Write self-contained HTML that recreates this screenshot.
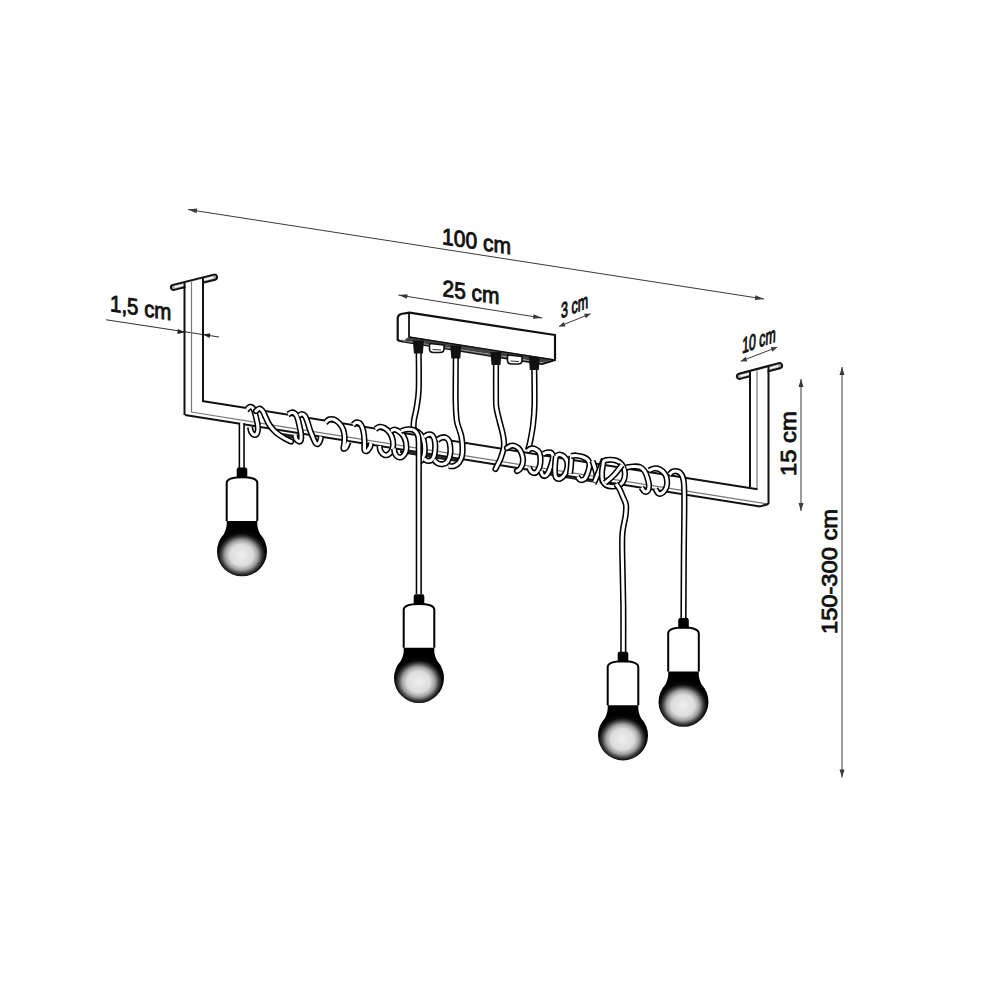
<!DOCTYPE html><html><head><meta charset="utf-8"><style>html,body{margin:0;padding:0;background:#fff;width:1000px;height:1000px;overflow:hidden}svg{display:block}text{font-family:"Liberation Sans",sans-serif;fill:#111}</style></head><body>
<svg width="1000" height="1000" viewBox="0 0 1000 1000">
<defs>
<radialGradient id="bg" gradientUnits="userSpaceOnUse" cx="-0.5" cy="87.5" r="25" gradientTransform="translate(-0.5,87.5) scale(1.1,1) translate(0.5,-87.5)">
<stop offset="0" stop-color="#eeeeee"/><stop offset="0.42" stop-color="#dddddd"/><stop offset="0.6" stop-color="#a0a0a0"/><stop offset="0.74" stop-color="#404040"/><stop offset="0.85" stop-color="#0a0a0a"/><stop offset="1" stop-color="#000"/>
</radialGradient>
</defs>
<line x1="188" y1="209.5" x2="764" y2="299" stroke="#3a3a3a" stroke-width="1.0"/><path d="M764.0,299.0 L754.8,299.9 L755.5,295.3 Z" fill="#3a3a3a"/><path d="M188.0,209.5 L197.2,208.6 L196.5,213.2 Z" fill="#3a3a3a"/>
<line x1="398.4" y1="295" x2="542.2" y2="318" stroke="#3a3a3a" stroke-width="1.0"/><path d="M542.2,318.0 L532.9,318.8 L533.7,314.3 Z" fill="#3a3a3a"/><path d="M398.4,295.0 L407.7,294.2 L406.9,298.7 Z" fill="#3a3a3a"/>
<line x1="559" y1="326.4" x2="590.5" y2="313.8" stroke="#3a3a3a" stroke-width="1.0"/><path d="M590.5,313.8 L585.9,318.3 L584.0,313.7 Z" fill="#3a3a3a"/><path d="M559.0,326.4 L563.6,321.9 L565.5,326.5 Z" fill="#3a3a3a"/>
<line x1="740.8" y1="361.2" x2="777.2" y2="347.2" stroke="#3a3a3a" stroke-width="1.0"/><path d="M777.2,347.2 L772.5,351.7 L770.7,347.0 Z" fill="#3a3a3a"/><path d="M740.8,361.2 L745.5,356.7 L747.3,361.4 Z" fill="#3a3a3a"/>
<line x1="801" y1="379" x2="801" y2="511" stroke="#3a3a3a" stroke-width="1.0"/><path d="M801.0,511.0 L798.5,503.0 L803.5,503.0 Z" fill="#3a3a3a"/><path d="M801.0,379.0 L803.5,387.0 L798.5,387.0 Z" fill="#3a3a3a"/>
<line x1="842" y1="367" x2="842" y2="777.5" stroke="#3a3a3a" stroke-width="1.0"/><path d="M842.0,777.5 L839.5,769.5 L844.5,769.5 Z" fill="#3a3a3a"/><path d="M842.0,367.0 L844.5,375.0 L839.5,375.0 Z" fill="#3a3a3a"/>
<line x1="106" y1="319.7" x2="219" y2="337" stroke="#333" stroke-width="1.1"/>
<path d="M184.5,332.5 L177.2,333.9 L178.0,329.0 Z" fill="#222"/>
<path d="M203.0,334.6 L210.3,333.2 L209.6,338.1 Z" fill="#222"/>
<text transform="translate(442,244) skewY(8.6) skewX(0) scale(0.915,1)" font-size="23" stroke="#111" stroke-width="0.9">100 cm</text>
<text transform="translate(442.5,296) skewY(8.2) skewX(0) scale(0.91,1)" font-size="23" stroke="#111" stroke-width="0.9">25 cm</text>
<text transform="translate(110,311) skewY(8.6) skewX(0) scale(0.89,1)" font-size="23" stroke="#111" stroke-width="0.9">1,5 cm</text>
<text transform="translate(561,318.5) skewY(-22) skewX(0) scale(0.58,1)" font-size="21.5" stroke="#111" stroke-width="1.1">3 cm</text>
<text transform="translate(742,353.5) skewY(-19.7) skewX(-2) scale(0.56,1)" font-size="22" stroke="#111" stroke-width="1.1">10 cm</text>
<text transform="translate(796,476) scale(0.93,1.035) rotate(-90)" font-size="23" stroke="#111" stroke-width="0.9">15 cm</text>
<text transform="translate(837,634) scale(0.96,1.03) rotate(-90)" font-size="23" stroke="#111" stroke-width="0.9">150-300 cm</text>
<g transform="translate(171,288) rotate(-14.036243467926479)"><rect x="0" y="-2.6" width="47.4" height="5.2" rx="2.6" fill="#aaa" stroke="#111" stroke-width="2"/><rect x="3.5" y="-0.8" width="12.3" height="1.6" rx="0.8" fill="#fff" stroke="none"/><rect x="29.4" y="-0.8" width="14.2" height="1.6" rx="0.8" fill="#fff" stroke="none"/></g>
<path d="M185.5,283.2 L202,279.1 L202,296 L185.5,296 Z" fill="#fff"/>
<line x1="184.5" y1="282.9" x2="184.5" y2="415" stroke="#111" stroke-width="2"/>
<line x1="191.5" y1="281.7" x2="191.5" y2="412" stroke="#777" stroke-width="1.2"/>
<line x1="203" y1="278.3" x2="203" y2="401" stroke="#111" stroke-width="2"/>
<g transform="translate(737,377) rotate(-14.931417178137554)"><rect x="0" y="-2.6" width="46.6" height="5.2" rx="2.6" fill="#aaa" stroke="#111" stroke-width="2"/><rect x="3.5" y="-0.8" width="12.1" height="1.6" rx="0.8" fill="#fff" stroke="none"/><rect x="28.9" y="-0.8" width="14.0" height="1.6" rx="0.8" fill="#fff" stroke="none"/></g>
<path d="M751,372.1 L767.5,367.7 L767.5,385 L751,385 Z" fill="#fff"/>
<line x1="750" y1="371.8" x2="750" y2="487" stroke="#111" stroke-width="2"/>
<line x1="757" y1="370.5" x2="757" y2="489" stroke="#777" stroke-width="1.2"/>
<line x1="768.5" y1="366.9" x2="768.5" y2="504" stroke="#111" stroke-width="2"/>
<line x1="202" y1="401" x2="757.5" y2="489.3" stroke="#111" stroke-width="2"/>
<line x1="191" y1="412" x2="768" y2="504" stroke="#777" stroke-width="1.2"/>
<polyline points="185,415 760,506.5 768.5,504" fill="none" stroke="#111" stroke-width="2"/>
<path d="M400,450 L460,459.5 L460,462.5 L400,453 Z" fill="#222"/><path d="M279,432.5 L298,435.5 L298,438.5 L285,437.5 Z" fill="#222"/><path d="M530,470.5 L596,481 L596,483 L530,472.5 Z" fill="#222"/>
<path d="M241.7,423.0 C241.7,425.8 241.7,432.5 241.7,440.0 C241.7,447.5 241.7,463.3 241.7,468.0" fill="none" stroke="#000" stroke-width="6.2" stroke-linecap="butt" stroke-linejoin="round"/><path d="M241.7,423.0 C241.7,425.8 241.7,432.5 241.7,440.0 C241.7,447.5 241.7,463.3 241.7,468.0" fill="none" stroke="#fff" stroke-width="3.1" stroke-linecap="butt" stroke-linejoin="round"/>
<path d="M246.5,410.0 C247.1,409.5 248.8,407.0 250.0,406.8 C251.2,406.6 252.5,407.3 253.5,409.0 C254.5,410.7 255.3,414.2 256.0,417.0 C256.7,419.8 257.6,423.5 257.8,426.0 C258.1,428.5 258.0,430.5 257.5,432.0 C257.0,433.5 256.0,434.9 255.0,435.0 C254.0,435.1 252.3,433.8 251.5,432.5 C250.7,431.2 250.2,427.9 250.0,427.0" fill="none" stroke="#000" stroke-width="6.2" stroke-linecap="butt" stroke-linejoin="round"/><path d="M246.5,410.0 C247.1,409.5 248.8,407.0 250.0,406.8 C251.2,406.6 252.5,407.3 253.5,409.0 C254.5,410.7 255.3,414.2 256.0,417.0 C256.7,419.8 257.6,423.5 257.8,426.0 C258.1,428.5 258.0,430.5 257.5,432.0 C257.0,433.5 256.0,434.9 255.0,435.0 C254.0,435.1 252.3,433.8 251.5,432.5 C250.7,431.2 250.2,427.9 250.0,427.0" fill="none" stroke="#fff" stroke-width="3.1" stroke-linecap="butt" stroke-linejoin="round"/>
<path d="M256.0,411.0 C256.6,410.6 258.3,408.4 259.5,408.5 C260.7,408.6 262.0,410.1 263.0,411.5 C264.0,412.9 264.4,414.8 265.5,417.0 C266.6,419.2 267.8,422.4 269.5,425.0 C271.2,427.6 273.6,430.3 276.0,432.5 C278.4,434.7 281.5,436.5 284.0,438.0 C286.5,439.5 289.8,440.9 291.0,441.5" fill="none" stroke="#000" stroke-width="6.2" stroke-linecap="round" stroke-linejoin="round"/><path d="M256.0,411.0 C256.6,410.6 258.3,408.4 259.5,408.5 C260.7,408.6 262.0,410.1 263.0,411.5 C264.0,412.9 264.4,414.8 265.5,417.0 C266.6,419.2 267.8,422.4 269.5,425.0 C271.2,427.6 273.6,430.3 276.0,432.5 C278.4,434.7 281.5,436.5 284.0,438.0 C286.5,439.5 289.8,440.9 291.0,441.5" fill="none" stroke="#fff" stroke-width="3.1" stroke-linecap="round" stroke-linejoin="round"/>
<path d="M288.0,414.5 C288.6,414.2 290.3,412.7 291.5,412.5 C292.7,412.3 294.0,412.6 295.0,413.5 C296.0,414.4 296.8,415.9 297.5,418.0 C298.2,420.1 298.9,423.3 299.5,426.0 C300.1,428.7 300.8,431.8 301.0,434.0 C301.2,436.2 301.3,438.2 301.0,439.5 C300.7,440.8 299.8,441.6 299.0,441.5 C298.2,441.4 296.7,440.1 296.0,439.0 C295.3,437.9 295.2,435.7 295.0,435.0" fill="none" stroke="#000" stroke-width="6.2" stroke-linecap="butt" stroke-linejoin="round"/><path d="M288.0,414.5 C288.6,414.2 290.3,412.7 291.5,412.5 C292.7,412.3 294.0,412.6 295.0,413.5 C296.0,414.4 296.8,415.9 297.5,418.0 C298.2,420.1 298.9,423.3 299.5,426.0 C300.1,428.7 300.8,431.8 301.0,434.0 C301.2,436.2 301.3,438.2 301.0,439.5 C300.7,440.8 299.8,441.6 299.0,441.5 C298.2,441.4 296.7,440.1 296.0,439.0 C295.3,437.9 295.2,435.7 295.0,435.0" fill="none" stroke="#fff" stroke-width="3.1" stroke-linecap="butt" stroke-linejoin="round"/>
<path d="M299.0,415.5 C299.5,415.2 301.0,413.9 302.0,414.0 C303.0,414.1 304.1,414.7 305.0,416.0 C305.9,417.3 306.7,419.7 307.5,422.0 C308.3,424.3 309.1,427.4 310.0,430.0 C310.9,432.6 312.1,435.3 313.0,437.5 C313.9,439.7 314.7,441.9 315.5,443.0 C316.3,444.1 317.2,444.3 318.0,444.0 C318.8,443.7 319.5,442.2 320.0,441.0 C320.5,439.8 320.8,437.2 321.0,436.5" fill="none" stroke="#000" stroke-width="6.2" stroke-linecap="butt" stroke-linejoin="round"/><path d="M299.0,415.5 C299.5,415.2 301.0,413.9 302.0,414.0 C303.0,414.1 304.1,414.7 305.0,416.0 C305.9,417.3 306.7,419.7 307.5,422.0 C308.3,424.3 309.1,427.4 310.0,430.0 C310.9,432.6 312.1,435.3 313.0,437.5 C313.9,439.7 314.7,441.9 315.5,443.0 C316.3,444.1 317.2,444.3 318.0,444.0 C318.8,443.7 319.5,442.2 320.0,441.0 C320.5,439.8 320.8,437.2 321.0,436.5" fill="none" stroke="#fff" stroke-width="3.1" stroke-linecap="butt" stroke-linejoin="round"/>
<path d="M325.5,422.5 C326.1,422.0 327.6,420.0 329.0,419.5 C330.4,419.0 332.3,418.9 334.0,419.5 C335.7,420.1 337.5,421.4 339.0,423.0 C340.5,424.6 342.1,426.8 343.0,429.0 C343.9,431.2 344.3,433.7 344.5,436.0 C344.7,438.3 344.5,440.9 344.3,443.0 C344.1,445.1 343.2,447.8 343.5,448.5 C343.8,449.2 345.2,448.6 346.0,447.5 C346.8,446.4 348.1,442.9 348.5,442.0" fill="none" stroke="#000" stroke-width="6.2" stroke-linecap="butt" stroke-linejoin="round"/><path d="M325.5,422.5 C326.1,422.0 327.6,420.0 329.0,419.5 C330.4,419.0 332.3,418.9 334.0,419.5 C335.7,420.1 337.5,421.4 339.0,423.0 C340.5,424.6 342.1,426.8 343.0,429.0 C343.9,431.2 344.3,433.7 344.5,436.0 C344.7,438.3 344.5,440.9 344.3,443.0 C344.1,445.1 343.2,447.8 343.5,448.5 C343.8,449.2 345.2,448.6 346.0,447.5 C346.8,446.4 348.1,442.9 348.5,442.0" fill="none" stroke="#fff" stroke-width="3.1" stroke-linecap="butt" stroke-linejoin="round"/>
<path d="M353.0,425.0 C353.5,424.6 354.8,422.8 356.0,422.5 C357.2,422.2 358.9,422.6 360.0,423.5 C361.1,424.4 361.8,426.1 362.5,428.0 C363.2,429.9 363.7,432.5 364.0,435.0 C364.3,437.5 364.4,440.5 364.5,443.0 C364.6,445.5 364.1,448.7 364.5,450.0 C364.9,451.3 366.1,451.5 367.0,451.0 C367.9,450.5 369.3,448.3 370.0,447.0 C370.7,445.7 370.8,443.7 371.0,443.0" fill="none" stroke="#000" stroke-width="6.2" stroke-linecap="butt" stroke-linejoin="round"/><path d="M353.0,425.0 C353.5,424.6 354.8,422.8 356.0,422.5 C357.2,422.2 358.9,422.6 360.0,423.5 C361.1,424.4 361.8,426.1 362.5,428.0 C363.2,429.9 363.7,432.5 364.0,435.0 C364.3,437.5 364.4,440.5 364.5,443.0 C364.6,445.5 364.1,448.7 364.5,450.0 C364.9,451.3 366.1,451.5 367.0,451.0 C367.9,450.5 369.3,448.3 370.0,447.0 C370.7,445.7 370.8,443.7 371.0,443.0" fill="none" stroke="#fff" stroke-width="3.1" stroke-linecap="butt" stroke-linejoin="round"/>
<path d="M375.5,429.0 C376.2,428.6 378.0,427.0 379.5,426.8 C381.0,426.6 382.8,427.0 384.5,428.0 C386.2,429.0 388.6,430.8 390.0,433.0 C391.4,435.2 392.6,438.3 393.0,441.0 C393.4,443.7 393.2,446.8 392.5,449.0 C391.8,451.2 390.3,453.0 389.0,454.0 C387.7,455.0 385.9,455.5 384.5,455.0 C383.1,454.5 381.3,452.5 380.5,451.0 C379.7,449.5 379.7,446.8 379.5,446.0" fill="none" stroke="#000" stroke-width="6.2" stroke-linecap="butt" stroke-linejoin="round"/><path d="M375.5,429.0 C376.2,428.6 378.0,427.0 379.5,426.8 C381.0,426.6 382.8,427.0 384.5,428.0 C386.2,429.0 388.6,430.8 390.0,433.0 C391.4,435.2 392.6,438.3 393.0,441.0 C393.4,443.7 393.2,446.8 392.5,449.0 C391.8,451.2 390.3,453.0 389.0,454.0 C387.7,455.0 385.9,455.5 384.5,455.0 C383.1,454.5 381.3,452.5 380.5,451.0 C379.7,449.5 379.7,446.8 379.5,446.0" fill="none" stroke="#fff" stroke-width="3.1" stroke-linecap="butt" stroke-linejoin="round"/>
<path d="M391.0,431.0 C391.6,430.8 393.2,429.4 394.5,429.5 C395.8,429.6 397.5,430.4 399.0,431.5 C400.5,432.6 402.3,434.1 403.5,436.0 C404.7,437.9 405.6,440.5 406.0,443.0 C406.4,445.5 406.6,448.8 406.0,451.0 C405.4,453.2 403.8,455.5 402.5,456.5 C401.2,457.5 399.2,457.5 398.0,457.0 C396.8,456.5 395.7,454.9 395.0,453.5 C394.3,452.1 394.2,449.3 394.0,448.5" fill="none" stroke="#000" stroke-width="6.2" stroke-linecap="butt" stroke-linejoin="round"/><path d="M391.0,431.0 C391.6,430.8 393.2,429.4 394.5,429.5 C395.8,429.6 397.5,430.4 399.0,431.5 C400.5,432.6 402.3,434.1 403.5,436.0 C404.7,437.9 405.6,440.5 406.0,443.0 C406.4,445.5 406.6,448.8 406.0,451.0 C405.4,453.2 403.8,455.5 402.5,456.5 C401.2,457.5 399.2,457.5 398.0,457.0 C396.8,456.5 395.7,454.9 395.0,453.5 C394.3,452.1 394.2,449.3 394.0,448.5" fill="none" stroke="#fff" stroke-width="3.1" stroke-linecap="butt" stroke-linejoin="round"/>
<path d="M418.7,353.0 C418.7,359.2 419.1,380.8 418.7,390.0 C418.3,399.2 417.3,403.0 416.5,408.0 C415.7,413.0 414.5,416.7 414.0,420.0 C413.5,423.3 413.6,426.7 413.5,428.0" fill="none" stroke="#000" stroke-width="6.2" stroke-linecap="butt" stroke-linejoin="round"/><path d="M418.7,353.0 C418.7,359.2 419.1,380.8 418.7,390.0 C418.3,399.2 417.3,403.0 416.5,408.0 C415.7,413.0 414.5,416.7 414.0,420.0 C413.5,423.3 413.6,426.7 413.5,428.0" fill="none" stroke="#fff" stroke-width="3.1" stroke-linecap="butt" stroke-linejoin="round"/>
<path d="M401.0,431.0 C401.8,430.8 404.2,429.8 406.0,429.5 C407.8,429.2 410.0,429.1 412.0,429.5 C414.0,429.9 416.2,430.8 418.0,432.0 C419.8,433.2 421.4,434.8 422.5,437.0 C423.6,439.2 424.2,442.3 424.5,445.0 C424.8,447.7 424.9,450.5 424.5,453.0 C424.1,455.5 423.2,458.5 422.0,460.0 C420.8,461.5 417.8,461.7 417.0,462.0" fill="none" stroke="#000" stroke-width="6.2" stroke-linecap="butt" stroke-linejoin="round"/><path d="M401.0,431.0 C401.8,430.8 404.2,429.8 406.0,429.5 C407.8,429.2 410.0,429.1 412.0,429.5 C414.0,429.9 416.2,430.8 418.0,432.0 C419.8,433.2 421.4,434.8 422.5,437.0 C423.6,439.2 424.2,442.3 424.5,445.0 C424.8,447.7 424.9,450.5 424.5,453.0 C424.1,455.5 423.2,458.5 422.0,460.0 C420.8,461.5 417.8,461.7 417.0,462.0" fill="none" stroke="#fff" stroke-width="3.1" stroke-linecap="butt" stroke-linejoin="round"/>
<path d="M424.0,437.0 C424.7,436.6 426.6,434.8 428.0,434.5 C429.4,434.2 431.3,434.2 432.5,435.5 C433.7,436.8 434.6,439.4 435.0,442.0 C435.4,444.6 435.3,448.2 435.0,451.0 C434.7,453.8 434.1,456.8 433.0,458.5 C431.9,460.2 430.0,460.9 428.5,461.0 C427.0,461.1 424.8,459.3 424.0,459.0" fill="none" stroke="#000" stroke-width="6.2" stroke-linecap="butt" stroke-linejoin="round"/><path d="M424.0,437.0 C424.7,436.6 426.6,434.8 428.0,434.5 C429.4,434.2 431.3,434.2 432.5,435.5 C433.7,436.8 434.6,439.4 435.0,442.0 C435.4,444.6 435.3,448.2 435.0,451.0 C434.7,453.8 434.1,456.8 433.0,458.5 C431.9,460.2 430.0,460.9 428.5,461.0 C427.0,461.1 424.8,459.3 424.0,459.0" fill="none" stroke="#fff" stroke-width="3.1" stroke-linecap="butt" stroke-linejoin="round"/>
<path d="M413.0,429.5 C413.6,430.0 415.6,431.1 416.5,432.5 C417.4,433.9 418.1,434.8 418.5,438.0 C418.9,441.2 418.8,445.0 418.8,452.0 C418.9,459.0 418.8,456.3 418.8,480.0 C418.8,503.7 418.8,575.0 418.8,594.0" fill="none" stroke="#000" stroke-width="6.2" stroke-linecap="butt" stroke-linejoin="round"/><path d="M413.0,429.5 C413.6,430.0 415.6,431.1 416.5,432.5 C417.4,433.9 418.1,434.8 418.5,438.0 C418.9,441.2 418.8,445.0 418.8,452.0 C418.9,459.0 418.8,456.3 418.8,480.0 C418.8,503.7 418.8,575.0 418.8,594.0" fill="none" stroke="#fff" stroke-width="3.1" stroke-linecap="butt" stroke-linejoin="round"/>
<path d="M437.5,440.0 C438.1,439.6 439.7,438.1 441.0,437.7 C442.3,437.3 444.2,436.9 445.5,437.5 C446.8,438.1 448.2,439.3 449.0,441.0 C449.8,442.7 450.1,445.2 450.3,447.5 C450.5,449.8 450.5,452.7 450.0,455.0 C449.5,457.3 448.6,460.0 447.5,461.5 C446.4,463.0 445.1,463.7 443.5,464.0 C441.9,464.3 439.6,464.2 438.0,463.5 C436.4,462.8 434.7,460.6 434.0,460.0" fill="none" stroke="#000" stroke-width="6.2" stroke-linecap="butt" stroke-linejoin="round"/><path d="M437.5,440.0 C438.1,439.6 439.7,438.1 441.0,437.7 C442.3,437.3 444.2,436.9 445.5,437.5 C446.8,438.1 448.2,439.3 449.0,441.0 C449.8,442.7 450.1,445.2 450.3,447.5 C450.5,449.8 450.5,452.7 450.0,455.0 C449.5,457.3 448.6,460.0 447.5,461.5 C446.4,463.0 445.1,463.7 443.5,464.0 C441.9,464.3 439.6,464.2 438.0,463.5 C436.4,462.8 434.7,460.6 434.0,460.0" fill="none" stroke="#fff" stroke-width="3.1" stroke-linecap="butt" stroke-linejoin="round"/>
<path d="M455.8,358.0 C455.8,365.0 455.5,389.7 455.6,400.0 C455.8,410.3 456.1,415.0 456.7,420.0 C457.3,425.0 458.7,427.2 459.5,430.0 C460.3,432.8 461.0,434.1 461.5,437.0 C462.0,439.9 462.5,444.3 462.6,447.5 C462.7,450.7 462.6,453.5 462.0,456.0 C461.4,458.5 460.3,460.8 459.0,462.5 C457.7,464.2 455.8,465.4 454.0,466.0 C452.2,466.6 449.4,466.0 448.5,466.0" fill="none" stroke="#000" stroke-width="6.2" stroke-linecap="butt" stroke-linejoin="round"/><path d="M455.8,358.0 C455.8,365.0 455.5,389.7 455.6,400.0 C455.8,410.3 456.1,415.0 456.7,420.0 C457.3,425.0 458.7,427.2 459.5,430.0 C460.3,432.8 461.0,434.1 461.5,437.0 C462.0,439.9 462.5,444.3 462.6,447.5 C462.7,450.7 462.6,453.5 462.0,456.0 C461.4,458.5 460.3,460.8 459.0,462.5 C457.7,464.2 455.8,465.4 454.0,466.0 C452.2,466.6 449.4,466.0 448.5,466.0" fill="none" stroke="#fff" stroke-width="3.1" stroke-linecap="butt" stroke-linejoin="round"/>
<path d="M496.0,365.0 C496.0,370.8 495.9,392.8 496.0,400.0 C496.1,407.2 496.0,404.7 496.5,408.0 C497.0,411.3 498.1,415.5 499.2,420.0 C500.3,424.5 502.2,430.7 503.0,435.0 C503.8,439.3 504.3,442.2 504.0,446.0 C503.7,449.8 502.1,454.3 501.0,457.5 C499.9,460.7 498.4,463.1 497.5,465.0 C496.6,466.9 495.8,468.3 495.5,469.0" fill="none" stroke="#000" stroke-width="6.2" stroke-linecap="round" stroke-linejoin="round"/><path d="M496.0,365.0 C496.0,370.8 495.9,392.8 496.0,400.0 C496.1,407.2 496.0,404.7 496.5,408.0 C497.0,411.3 498.1,415.5 499.2,420.0 C500.3,424.5 502.2,430.7 503.0,435.0 C503.8,439.3 504.3,442.2 504.0,446.0 C503.7,449.8 502.1,454.3 501.0,457.5 C499.9,460.7 498.4,463.1 497.5,465.0 C496.6,466.9 495.8,468.3 495.5,469.0" fill="none" stroke="#fff" stroke-width="3.1" stroke-linecap="round" stroke-linejoin="round"/>
<path d="M507.0,448.0 C507.7,447.6 509.6,446.0 511.0,445.7 C512.4,445.4 514.0,445.5 515.5,446.2 C517.0,446.9 518.8,448.1 520.0,450.0 C521.2,451.9 522.4,455.2 522.8,457.5 C523.2,459.8 523.0,462.1 522.5,464.0 C522.0,465.9 520.9,467.8 520.0,469.0 C519.1,470.2 517.5,470.7 517.0,471.0" fill="none" stroke="#000" stroke-width="6.2" stroke-linecap="round" stroke-linejoin="round"/><path d="M507.0,448.0 C507.7,447.6 509.6,446.0 511.0,445.7 C512.4,445.4 514.0,445.5 515.5,446.2 C517.0,446.9 518.8,448.1 520.0,450.0 C521.2,451.9 522.4,455.2 522.8,457.5 C523.2,459.8 523.0,462.1 522.5,464.0 C522.0,465.9 520.9,467.8 520.0,469.0 C519.1,470.2 517.5,470.7 517.0,471.0" fill="none" stroke="#fff" stroke-width="3.1" stroke-linecap="round" stroke-linejoin="round"/>
<path d="M534.3,370.0 C534.3,375.8 534.7,395.8 534.5,405.0 C534.3,414.2 533.7,419.2 533.0,425.0 C532.3,430.8 531.3,435.8 530.5,440.0 C529.7,444.2 528.4,448.3 528.0,450.0" fill="none" stroke="#000" stroke-width="6.2" stroke-linecap="butt" stroke-linejoin="round"/><path d="M534.3,370.0 C534.3,375.8 534.7,395.8 534.5,405.0 C534.3,414.2 533.7,419.2 533.0,425.0 C532.3,430.8 531.3,435.8 530.5,440.0 C529.7,444.2 528.4,448.3 528.0,450.0" fill="none" stroke="#fff" stroke-width="3.1" stroke-linecap="butt" stroke-linejoin="round"/>
<path d="M527.5,451.0 C528.1,450.6 529.6,448.8 531.0,448.5 C532.4,448.2 534.6,448.8 536.0,449.5 C537.4,450.2 538.8,451.2 539.5,453.0 C540.2,454.8 540.5,457.7 540.5,460.0 C540.5,462.3 540.2,464.9 539.5,467.0 C538.8,469.1 537.3,471.7 536.0,472.5 C534.7,473.3 532.7,472.8 531.5,472.0 C530.3,471.2 529.4,468.2 529.0,467.5" fill="none" stroke="#000" stroke-width="6.2" stroke-linecap="butt" stroke-linejoin="round"/><path d="M527.5,451.0 C528.1,450.6 529.6,448.8 531.0,448.5 C532.4,448.2 534.6,448.8 536.0,449.5 C537.4,450.2 538.8,451.2 539.5,453.0 C540.2,454.8 540.5,457.7 540.5,460.0 C540.5,462.3 540.2,464.9 539.5,467.0 C538.8,469.1 537.3,471.7 536.0,472.5 C534.7,473.3 532.7,472.8 531.5,472.0 C530.3,471.2 529.4,468.2 529.0,467.5" fill="none" stroke="#fff" stroke-width="3.1" stroke-linecap="butt" stroke-linejoin="round"/>
<path d="M543.0,454.0 C543.7,453.8 545.6,452.7 547.0,452.5 C548.4,452.3 550.5,452.2 551.5,453.0 C552.5,453.8 553.0,455.2 553.0,457.0 C553.0,458.8 552.2,461.7 551.5,464.0 C550.8,466.3 549.9,469.1 549.0,471.0 C548.1,472.9 547.1,474.8 546.0,475.5 C544.9,476.2 543.3,475.8 542.5,475.0 C541.7,474.2 541.2,471.7 541.0,471.0" fill="none" stroke="#000" stroke-width="6.2" stroke-linecap="butt" stroke-linejoin="round"/><path d="M543.0,454.0 C543.7,453.8 545.6,452.7 547.0,452.5 C548.4,452.3 550.5,452.2 551.5,453.0 C552.5,453.8 553.0,455.2 553.0,457.0 C553.0,458.8 552.2,461.7 551.5,464.0 C550.8,466.3 549.9,469.1 549.0,471.0 C548.1,472.9 547.1,474.8 546.0,475.5 C544.9,476.2 543.3,475.8 542.5,475.0 C541.7,474.2 541.2,471.7 541.0,471.0" fill="none" stroke="#fff" stroke-width="3.1" stroke-linecap="butt" stroke-linejoin="round"/>
<path d="M556.0,456.0 C556.6,455.8 558.2,454.4 559.5,454.5 C560.8,454.6 562.8,455.4 564.0,456.5 C565.2,457.6 566.4,459.2 567.0,461.0 C567.6,462.8 567.8,464.8 567.5,467.0 C567.2,469.2 566.2,472.1 565.0,474.0 C563.8,475.9 562.0,477.9 560.5,478.5 C559.0,479.1 557.0,478.8 556.0,477.5 C555.0,476.2 554.9,473.6 554.8,471.0 C554.7,468.4 555.1,464.5 555.3,462.0 C555.5,459.5 555.9,457.0 556.0,456.0" fill="none" stroke="#000" stroke-width="6.2" stroke-linecap="butt" stroke-linejoin="round"/><path d="M556.0,456.0 C556.6,455.8 558.2,454.4 559.5,454.5 C560.8,454.6 562.8,455.4 564.0,456.5 C565.2,457.6 566.4,459.2 567.0,461.0 C567.6,462.8 567.8,464.8 567.5,467.0 C567.2,469.2 566.2,472.1 565.0,474.0 C563.8,475.9 562.0,477.9 560.5,478.5 C559.0,479.1 557.0,478.8 556.0,477.5 C555.0,476.2 554.9,473.6 554.8,471.0 C554.7,468.4 555.1,464.5 555.3,462.0 C555.5,459.5 555.9,457.0 556.0,456.0" fill="none" stroke="#fff" stroke-width="3.1" stroke-linecap="butt" stroke-linejoin="round"/>
<path d="M571.5,456.0 C571.4,457.5 571.2,462.1 571.0,465.0 C570.8,467.9 570.2,472.1 570.0,473.5" fill="none" stroke="#000" stroke-width="6.2" stroke-linecap="butt" stroke-linejoin="round"/><path d="M571.5,456.0 C571.4,457.5 571.2,462.1 571.0,465.0 C570.8,467.9 570.2,472.1 570.0,473.5" fill="none" stroke="#fff" stroke-width="3.1" stroke-linecap="butt" stroke-linejoin="round"/>
<path d="M571.0,456.0 C571.8,455.9 574.0,455.3 576.0,455.5 C578.0,455.7 581.0,456.2 583.0,457.0 C585.0,457.8 586.9,458.7 588.0,460.0 C589.1,461.3 589.5,463.0 589.5,465.0 C589.5,467.0 588.8,469.8 588.0,472.0 C587.2,474.2 586.2,477.2 585.0,478.5 C583.8,479.8 581.8,480.2 580.5,480.0 C579.2,479.8 578.0,477.5 577.5,477.0" fill="none" stroke="#000" stroke-width="6.2" stroke-linecap="butt" stroke-linejoin="round"/><path d="M571.0,456.0 C571.8,455.9 574.0,455.3 576.0,455.5 C578.0,455.7 581.0,456.2 583.0,457.0 C585.0,457.8 586.9,458.7 588.0,460.0 C589.1,461.3 589.5,463.0 589.5,465.0 C589.5,467.0 588.8,469.8 588.0,472.0 C587.2,474.2 586.2,477.2 585.0,478.5 C583.8,479.8 581.8,480.2 580.5,480.0 C579.2,479.8 578.0,477.5 577.5,477.0" fill="none" stroke="#fff" stroke-width="3.1" stroke-linecap="butt" stroke-linejoin="round"/>
<path d="M592.5,461.0 C593.0,462.5 594.5,466.2 595.5,470.0 C596.5,473.8 598.0,481.7 598.5,484.0" fill="none" stroke="#000" stroke-width="6.2" stroke-linecap="butt" stroke-linejoin="round"/><path d="M592.5,461.0 C593.0,462.5 594.5,466.2 595.5,470.0 C596.5,473.8 598.0,481.7 598.5,484.0" fill="none" stroke="#fff" stroke-width="3.1" stroke-linecap="butt" stroke-linejoin="round"/>
<path d="M604.0,459.0 C603.2,460.8 601.1,466.2 599.5,470.0 C597.9,473.8 595.3,480.0 594.5,482.0" fill="none" stroke="#000" stroke-width="6.2" stroke-linecap="butt" stroke-linejoin="round"/><path d="M604.0,459.0 C603.2,460.8 601.1,466.2 599.5,470.0 C597.9,473.8 595.3,480.0 594.5,482.0" fill="none" stroke="#fff" stroke-width="3.1" stroke-linecap="butt" stroke-linejoin="round"/>
<path d="M603.0,465.0 C603.2,464.3 603.0,461.9 604.0,461.0 C605.0,460.1 607.0,459.9 609.0,459.8 C611.0,459.7 613.9,459.8 616.0,460.5 C618.1,461.2 620.1,462.4 621.5,464.0 C622.9,465.6 624.0,467.7 624.5,470.0 C625.0,472.3 625.2,475.6 624.5,478.0 C623.8,480.4 622.4,483.1 620.5,484.5 C618.6,485.9 615.4,486.4 613.0,486.5 C610.6,486.6 607.8,486.1 606.0,485.0 C604.2,483.9 603.2,482.2 602.5,480.0 C601.8,477.8 601.9,474.5 602.0,472.0 C602.1,469.5 602.8,466.2 603.0,465.0" fill="none" stroke="#000" stroke-width="6.2" stroke-linecap="butt" stroke-linejoin="round"/><path d="M603.0,465.0 C603.2,464.3 603.0,461.9 604.0,461.0 C605.0,460.1 607.0,459.9 609.0,459.8 C611.0,459.7 613.9,459.8 616.0,460.5 C618.1,461.2 620.1,462.4 621.5,464.0 C622.9,465.6 624.0,467.7 624.5,470.0 C625.0,472.3 625.2,475.6 624.5,478.0 C623.8,480.4 622.4,483.1 620.5,484.5 C618.6,485.9 615.4,486.4 613.0,486.5 C610.6,486.6 607.8,486.1 606.0,485.0 C604.2,483.9 603.2,482.2 602.5,480.0 C601.8,477.8 601.9,474.5 602.0,472.0 C602.1,469.5 602.8,466.2 603.0,465.0" fill="none" stroke="#fff" stroke-width="3.1" stroke-linecap="butt" stroke-linejoin="round"/>
<path d="M622.0,465.0 C620.7,466.7 616.8,472.0 614.0,475.0 C611.2,478.0 606.5,481.7 605.0,483.0" fill="none" stroke="#000" stroke-width="6.2" stroke-linecap="butt" stroke-linejoin="round"/><path d="M622.0,465.0 C620.7,466.7 616.8,472.0 614.0,475.0 C611.2,478.0 606.5,481.7 605.0,483.0" fill="none" stroke="#fff" stroke-width="3.1" stroke-linecap="butt" stroke-linejoin="round"/>
<path d="M616.0,484.0 C616.6,484.8 618.3,486.8 619.5,489.0 C620.7,491.2 621.9,494.3 623.0,497.0 C624.1,499.7 625.6,501.8 626.0,505.0 C626.4,508.2 626.1,511.2 625.5,516.0 C624.9,520.8 622.9,526.5 622.4,534.0 C621.9,541.5 622.2,549.0 622.4,561.0 C622.5,573.0 623.1,590.8 623.3,606.0 C623.4,621.2 623.3,644.3 623.3,652.0" fill="none" stroke="#000" stroke-width="6.2" stroke-linecap="butt" stroke-linejoin="round"/><path d="M616.0,484.0 C616.6,484.8 618.3,486.8 619.5,489.0 C620.7,491.2 621.9,494.3 623.0,497.0 C624.1,499.7 625.6,501.8 626.0,505.0 C626.4,508.2 626.1,511.2 625.5,516.0 C624.9,520.8 622.9,526.5 622.4,534.0 C621.9,541.5 622.2,549.0 622.4,561.0 C622.5,573.0 623.1,590.8 623.3,606.0 C623.4,621.2 623.3,644.3 623.3,652.0" fill="none" stroke="#fff" stroke-width="3.1" stroke-linecap="butt" stroke-linejoin="round"/>
<path d="M626.5,467.5 C627.6,467.3 630.8,466.6 633.0,466.5 C635.2,466.4 638.1,466.2 640.0,467.0 C641.9,467.8 643.2,469.2 644.5,471.0 C645.8,472.8 646.8,475.7 647.5,478.0 C648.2,480.3 648.9,482.9 649.0,485.0 C649.1,487.1 648.8,489.4 648.0,490.5 C647.2,491.6 645.6,492.0 644.5,491.5 C643.4,491.0 642.0,488.2 641.5,487.5" fill="none" stroke="#000" stroke-width="6.2" stroke-linecap="butt" stroke-linejoin="round"/><path d="M626.5,467.5 C627.6,467.3 630.8,466.6 633.0,466.5 C635.2,466.4 638.1,466.2 640.0,467.0 C641.9,467.8 643.2,469.2 644.5,471.0 C645.8,472.8 646.8,475.7 647.5,478.0 C648.2,480.3 648.9,482.9 649.0,485.0 C649.1,487.1 648.8,489.4 648.0,490.5 C647.2,491.6 645.6,492.0 644.5,491.5 C643.4,491.0 642.0,488.2 641.5,487.5" fill="none" stroke="#fff" stroke-width="3.1" stroke-linecap="butt" stroke-linejoin="round"/>
<path d="M649.0,470.5 C649.8,470.2 652.2,468.7 654.0,468.5 C655.8,468.3 658.2,468.6 660.0,469.5 C661.8,470.4 663.8,472.2 665.0,474.0 C666.2,475.8 666.8,477.8 667.0,480.0 C667.2,482.2 667.2,484.9 666.5,487.0 C665.8,489.1 664.3,491.4 663.0,492.5 C661.7,493.6 659.8,494.1 658.5,493.5 C657.2,492.9 656.0,489.8 655.5,489.0" fill="none" stroke="#000" stroke-width="6.2" stroke-linecap="butt" stroke-linejoin="round"/><path d="M649.0,470.5 C649.8,470.2 652.2,468.7 654.0,468.5 C655.8,468.3 658.2,468.6 660.0,469.5 C661.8,470.4 663.8,472.2 665.0,474.0 C666.2,475.8 666.8,477.8 667.0,480.0 C667.2,482.2 667.2,484.9 666.5,487.0 C665.8,489.1 664.3,491.4 663.0,492.5 C661.7,493.6 659.8,494.1 658.5,493.5 C657.2,492.9 656.0,489.8 655.5,489.0" fill="none" stroke="#fff" stroke-width="3.1" stroke-linecap="butt" stroke-linejoin="round"/>
<path d="M669.5,474.5 C670.1,474.0 671.6,472.0 673.0,471.5 C674.4,471.0 676.6,471.0 678.0,471.5 C679.4,472.0 680.6,473.1 681.5,474.5 C682.4,475.9 683.0,477.4 683.5,480.0 C684.0,482.6 684.1,485.0 684.2,490.0 C684.3,495.0 684.4,498.3 684.3,510.0 C684.2,521.7 683.9,542.0 683.8,560.0 C683.7,578.0 683.5,608.3 683.5,618.0" fill="none" stroke="#000" stroke-width="6.2" stroke-linecap="butt" stroke-linejoin="round"/><path d="M669.5,474.5 C670.1,474.0 671.6,472.0 673.0,471.5 C674.4,471.0 676.6,471.0 678.0,471.5 C679.4,472.0 680.6,473.1 681.5,474.5 C682.4,475.9 683.0,477.4 683.5,480.0 C684.0,482.6 684.1,485.0 684.2,490.0 C684.3,495.0 684.4,498.3 684.3,510.0 C684.2,521.7 683.9,542.0 683.8,560.0 C683.7,578.0 683.5,608.3 683.5,618.0" fill="none" stroke="#fff" stroke-width="3.1" stroke-linecap="butt" stroke-linejoin="round"/>
<path d="M397.7,340 L397.7,318 Q398,315 401,314 L409.4,312.6 L555,335 L555,360 L542,364 L400,341 Z" fill="#fff" stroke="#111" stroke-width="2.2" stroke-linejoin="round"/>
<line x1="409" y1="313" x2="409" y2="337" stroke="#111" stroke-width="1.8"/>
<path d="M409,336.5 L555,359.5 L543,362.5 L404,340.5 Z" fill="#444"/>
<line x1="409" y1="337" x2="555" y2="360" stroke="#111" stroke-width="1.4"/>
<path d="M402,339 L403,341 L542,363" fill="none" stroke="#888" stroke-width="0.8"/>
<path d="M429.5,343.5 L444.0,345.0 L444.0,349.0 Q444.0,352.5 440.0,352.5 L433.5,352.5 Q429.5,352.5 429.5,349.0 Z" fill="#fff" stroke="#111" stroke-width="1.6"/>
<line x1="432.5" y1="349.5" x2="441.0" y2="350.0" stroke="#333" stroke-width="1"/>
<path d="M507.5,355 L522.0,356.5 L522.0,360.5 Q522.0,364 518.0,364 L511.5,364 Q507.5,364 507.5,360.5 Z" fill="#fff" stroke="#111" stroke-width="1.6"/>
<line x1="510.5" y1="361" x2="519.0" y2="361.5" stroke="#333" stroke-width="1"/>
<path d="M412.9,340.5 L423.9,340.5 L422.9,353.5 L413.9,353.5 Z" fill="#111"/>
<path d="M450.3,345.5 L461.3,345.5 L460.3,358.5 L451.3,358.5 Z" fill="#111"/>
<path d="M490.5,352 L501.5,352 L500.5,365 L491.5,365 Z" fill="#111"/>
<path d="M528.8,357 L539.8,357 L538.8,370 L529.8,370 Z" fill="#111"/>
<g transform="translate(242,467.6)"><path d="M-15.3,51 L-15.3,56.5 C-15.3,60 -16.5,63 -18.1,66.5 A25,25 0 1 0 18.1,66.5 C16.5,63 15.3,60 15.3,56.5 L15.3,51 Z" fill="url(#bg)"/><path d="M-15.3,53.5 L-15.3,15.5 C-15.3,11.2 -9,9.6 0,9.6 C9,9.6 15.3,11.2 15.3,15.5 L15.3,53.5" fill="#fff" stroke="#000" stroke-width="2"/><path d="M-4.2,0 L4.2,0 L5.3,1.8 L5.3,10.5 L-5.3,10.5 L-5.3,1.8 Z" fill="#000"/></g>
<g transform="translate(419,594.3)"><path d="M-15.3,51 L-15.3,56.5 C-15.3,60 -16.5,63 -18.1,66.5 A25,25 0 1 0 18.1,66.5 C16.5,63 15.3,60 15.3,56.5 L15.3,51 Z" fill="url(#bg)"/><path d="M-15.3,53.5 L-15.3,15.5 C-15.3,11.2 -9,9.6 0,9.6 C9,9.6 15.3,11.2 15.3,15.5 L15.3,53.5" fill="#fff" stroke="#000" stroke-width="2"/><path d="M-4.2,0 L4.2,0 L5.3,1.8 L5.3,10.5 L-5.3,10.5 L-5.3,1.8 Z" fill="#000"/></g>
<g transform="translate(623,651.7)"><path d="M-15.3,51 L-15.3,56.5 C-15.3,60 -16.5,63 -18.1,66.5 A25,25 0 1 0 18.1,66.5 C16.5,63 15.3,60 15.3,56.5 L15.3,51 Z" fill="url(#bg)"/><path d="M-15.3,53.5 L-15.3,15.5 C-15.3,11.2 -9,9.6 0,9.6 C9,9.6 15.3,11.2 15.3,15.5 L15.3,53.5" fill="#fff" stroke="#000" stroke-width="2"/><path d="M-4.2,0 L4.2,0 L5.3,1.8 L5.3,10.5 L-5.3,10.5 L-5.3,1.8 Z" fill="#000"/></g>
<g transform="translate(683.5,618)"><path d="M-15.3,51 L-15.3,56.5 C-15.3,60 -16.5,63 -18.1,66.5 A25,25 0 1 0 18.1,66.5 C16.5,63 15.3,60 15.3,56.5 L15.3,51 Z" fill="url(#bg)"/><path d="M-15.3,53.5 L-15.3,15.5 C-15.3,11.2 -9,9.6 0,9.6 C9,9.6 15.3,11.2 15.3,15.5 L15.3,53.5" fill="#fff" stroke="#000" stroke-width="2"/><path d="M-4.2,0 L4.2,0 L5.3,1.8 L5.3,10.5 L-5.3,10.5 L-5.3,1.8 Z" fill="#000"/></g>
</svg></body></html>
